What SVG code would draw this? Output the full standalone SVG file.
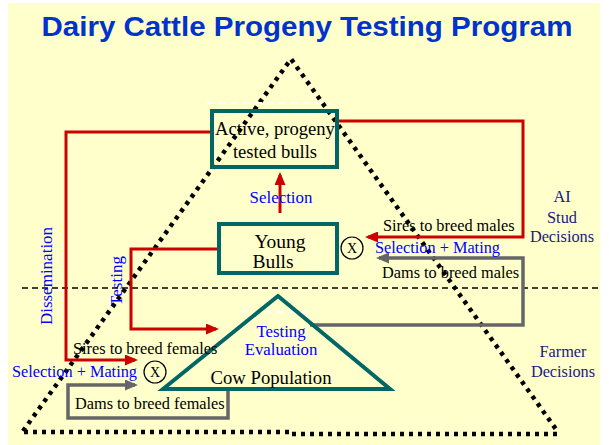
<svg xmlns="http://www.w3.org/2000/svg" width="609" height="445" viewBox="0 0 609 445">
  <defs>
    <marker id="arrow-red" markerUnits="userSpaceOnUse" markerWidth="13" markerHeight="11" refX="10" refY="5.5" orient="auto">
      <path d="M0,0 L13,5.5 L0,11 z" fill="#CC0000"/>
    </marker>
    <marker id="arrow-gray" markerUnits="userSpaceOnUse" markerWidth="13" markerHeight="11" refX="10" refY="5.5" orient="auto">
      <path d="M0,0 L13,5.5 L0,11 z" fill="#666666"/>
    </marker>
    <style>
      .title { font-family: "Liberation Sans", Arial, sans-serif; font-weight: bold; fill: #0033CC; }
      .serif { font-family: "Liberation Serif", "Times New Roman", serif; }
      .dark { fill: #000000; }
      .blue { fill: #0000FF; }
      .navy { fill: #1A1A80; }
      .lbl { font-size: 16.3px; }
      .box { fill: none; stroke: #006666; stroke-width: 4; }
      .red { fill: none; stroke: #CC0000; stroke-width: 3; }
      .gray { fill: none; stroke: #666666; stroke-width: 3.5; }
      .dots { fill: none; stroke: #000000; stroke-width: 4.5; stroke-dasharray: 4 5; }
      .split { fill: none; stroke: #000000; stroke-width: 1.6; stroke-dasharray: 6 4; }
      .ghost { fill: none; stroke: #FFFFFF; stroke-width: 2; stroke-dasharray: 7 5; }
      .mate { fill: none; stroke: #000000; stroke-width: 1.2; }
    </style>
  </defs>

  <!-- slide background -->
  <rect x="8" y="3" width="592" height="442" fill="#FFFFCC"/>

  <!-- heading -->
  <text id="title" class="title" x="307" y="36" font-size="27" text-anchor="middle" textLength="531" lengthAdjust="spacingAndGlyphs">Dairy Cattle Progeny Testing Program</text>

  <!-- big dotted pyramid and the dashed split between stud and farm levels -->
  <g id="pyramid">
    <path class="dots" d="M23,431 L291,59 L558,432"/>
    <path class="dots" d="M24,432 L290,432"/>
    <path class="dots" d="M292,434 L558,434"/>
    <path class="split" d="M22,288 L600,288"/>
  </g>

  <!-- connectors -->
  <g id="connectors">
    <!-- young bulls selected into proven bulls -->
    <path class="red" d="M280,213 L280,175" marker-end="url(#arrow-red)"/>
    <!-- proven sires back to breed males -->
    <path class="red" d="M339,121 L523,121 L523,237 L368,237" marker-end="url(#arrow-red)"/>
    <!-- dams from cow population to breed males -->
    <path class="gray" d="M310,325 L523,325 L523,258 L379,258" marker-end="url(#arrow-gray)"/>
    <!-- dissemination of proven sires to breed females -->
    <path class="red" d="M210,132 L66,132 L66,360 L135,360" marker-end="url(#arrow-red)"/>
    <!-- young bulls into progeny testing -->
    <path class="red" d="M218,249 L131,249 L131,329 L216,329" marker-end="url(#arrow-red)"/>
    <!-- dams to breed females -->
    <path class="gray" d="M228,390 L228,418 L68,418 L68,385 L135,385" marker-end="url(#arrow-gray)"/>
  </g>

  <!-- proven bulls -->
  <g id="node-active-bulls">
    <path class="ghost" d="M207,103 L330,103"/>
    <rect class="box" x="212" y="111" width="125" height="56"/>
    <text class="serif dark" x="275" y="135" font-size="18.6" text-anchor="middle">Active, progeny</text>
    <text class="serif dark" x="275" y="158" font-size="18.6" text-anchor="middle">tested bulls</text>
  </g>

  <!-- young bulls -->
  <g id="node-young-bulls">
    <rect class="box" x="219" y="224" width="118" height="49"/>
    <text class="serif dark" x="280" y="248" font-size="19.5" text-anchor="middle">Young</text>
    <text class="serif dark" x="273" y="268" font-size="19.5" text-anchor="middle">Bulls</text>
  </g>

  <!-- cow population -->
  <g id="node-cow-population">
    <path class="ghost" d="M241,312 L311,312"/>
    <path class="box" d="M163,389 L278,296 L390,389 Z"/>
    <text class="serif blue" x="281" y="337" font-size="16.8" text-anchor="middle">Testing</text>
    <text class="serif blue" x="281" y="355" font-size="16.8" text-anchor="middle">Evaluation</text>
    <text class="serif dark" x="271" y="384" font-size="18.7" text-anchor="middle">Cow Population</text>
  </g>

  <!-- mating points -->
  <g id="mating-males">
    <circle class="mate" cx="352" cy="248" r="11"/>
    <text class="serif dark" x="352" y="253" font-size="14" text-anchor="middle">X</text>
  </g>
  <g id="mating-females">
    <circle class="mate" cx="155" cy="372" r="11"/>
    <text class="serif dark" x="155" y="377" font-size="14" text-anchor="middle">X</text>
  </g>

  <!-- flow labels -->
  <g id="labels">
    <text class="serif blue" x="281" y="203" font-size="16.9" text-anchor="middle">Selection</text>
    <text class="serif dark lbl" x="383" y="231">Sires to breed males</text>
    <text class="serif blue lbl" x="375" y="253">Selection + Mating</text>
    <text class="serif dark lbl" x="382" y="278">Dams to breed males</text>
    <text class="serif dark lbl" x="73" y="354">Sires to breed females</text>
    <text class="serif blue lbl" x="12" y="377">Selection + Mating</text>
    <text class="serif dark lbl" x="75" y="409">Dams to breed females</text>
    <text class="serif blue" font-size="17" text-anchor="middle" transform="translate(52,276) rotate(-90)">Dissemination</text>
    <text class="serif blue" font-size="17" text-anchor="middle" transform="translate(122,281) rotate(-90)">Testing</text>
  </g>

  <!-- decision levels -->
  <g id="decision-ai-stud">
    <text class="serif navy lbl" x="562" y="202" text-anchor="middle">AI</text>
    <text class="serif navy lbl" x="562" y="223" text-anchor="middle">Stud</text>
    <text class="serif navy lbl" x="562" y="242" text-anchor="middle">Decisions</text>
  </g>
  <g id="decision-farmer">
    <text class="serif navy lbl" x="563" y="357" text-anchor="middle">Farmer</text>
    <text class="serif navy lbl" x="563" y="377" text-anchor="middle">Decisions</text>
  </g>
</svg>
